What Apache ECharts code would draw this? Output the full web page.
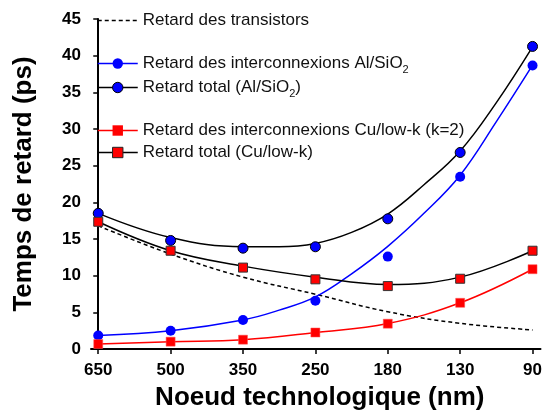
<!DOCTYPE html>
<html>
<head>
<meta charset="utf-8">
<script src="https://cdn.jsdelivr.net/npm/echarts@6/dist/echarts.min.js"></script>
<style>html,body{margin:0;padding:0;background:#fff}#c{width:545px;height:416px}</style>
</head>
<body>
<div id="c"></div>
<script>
// Data
const categories = ['650', '500', '350', '250', '180', '130', '90'];
const yTicks = [0, 5, 10, 15, 20, 25, 30, 35, 40, 45];
const seriesNames = [
  'Retard des transistors',
  'Retard des interconnexions Al/SiO2',
  'Retard total (Al/SiO2)',
  'Retard des interconnexions Cu/low-k (k=2)',
  'Retard total (Cu/low-k)'
];
// measured points (markers), one per node
const alInterconnect = [1.85, 2.48, 3.96, 6.57, 12.6, 23.5, 38.66];
const alTotal = [18.5, 14.8, 13.75, 13.94, 17.75, 26.8, 41.26];
const cuInterconnect = [0.68, 1.0, 1.27, 2.25, 3.45, 6.3, 10.88];
const cuTotal = [17.35, 13.4, 11.1, 9.5, 8.58, 9.58, 13.4];
// fitted curves, one per node
const transistorFit = [16.8, 12.95, 9.8, 7.47, 5.08, 3.5, 2.6];
const cuInterconnectFit = [0.68, 1.0, 1.27, 2.25, 3.47, 6.3, 10.88];
const cuTotalFit = [17.35, 13.4, 11.3, 9.8, 8.8, 9.8, 13.4];
// Al fitted curves read at half-node steps as well
const fineSteps = [0, 1, 2, 2.5, 3, 3.5, 4, 4.5, 5, 5.5, 6];
const alInterconnectFit = [1.85, 2.5, 3.96, 5.3, 7.1, 10.25, 14.0, 18.5, 23.7, 31.0, 38.7];
const alTotalFit = [18.5, 15.2, 13.95, 13.95, 14.4, 15.9, 18.4, 22.4, 27.0, 33.6, 41.2];

const nodeIndex = categories.map((_, i) => i);
const pts = arr => arr.map((v, i) => [i, v]);
const finePts = arr => arr.map((v, i) => [fineSteps[i], v]);
const FONT = '"Liberation Sans", Arial, sans-serif';
const BLUE = '#0000ff', RED = '#ff0000', BLACK = '#000000';

function fitLine(name, data, color, symbol, fill, border, dashed) {
  return {
    name, type: 'line', data, smooth: 0.4,
    showSymbol: false, symbol: symbol, symbolSize: 10,
    lineStyle: { color, width: 1.5, type: dashed ? [4, 3] : 'solid' },
    itemStyle: { color: fill, borderColor: border, borderWidth: 1 },
    emphasis: { disabled: true }, silent: true, z: 2
  };
}
function markers(name, data, symbol, size, fill, border, bw) {
  return {
    name, type: 'scatter', data: pts(data), symbol, symbolSize: size,
    itemStyle: { color: fill, borderColor: border, borderWidth: bw, opacity: 1 },
    emphasis: { disabled: true }, silent: true, z: 5
  };
}
const rich = { sub: { fontSize: 11, fontFamily: FONT, color: '#111', verticalAlign: 'bottom', lineHeight: 24 } };
function legendFor(name, top, iconStyle, lineStyle) {
  return {
    left: 97, top, orient: 'vertical', itemWidth: 40, itemHeight: 13, itemGap: 0,
    selectedMode: false, padding: 0,
    data: [{ name, itemStyle: iconStyle, lineStyle }],
    formatter: n => n.replace('SiO2', 'SiO{sub|2}'),
    textStyle: { fontSize: 17, fontFamily: FONT, color: '#111', rich }
  };
}

const chart = echarts.init(document.getElementById('c'), null, { renderer: 'canvas' });
chart.setOption({
  animation: false,
  backgroundColor: '#fff',
  grid: { left: 91, right: 0, top: 19, bottom: 63, containLabel: false },
  legend: [
    legendFor(seriesNames[0], 12, { color: 'rgba(0,0,0,0)', borderWidth: 0, opacity: 0 }, { color: BLACK, width: 1.5, type: [4, 3] }),
    legendFor(seriesNames[1], 55, { color: BLUE, borderWidth: 0 }, { color: BLUE, width: 1.5 }),
    legendFor(seriesNames[2], 79, { color: BLUE, borderColor: BLACK, borderWidth: 1 }, { color: BLACK, width: 1.5 }),
    legendFor(seriesNames[3], 122, { color: RED, borderWidth: 0 }, { color: RED, width: 1.5 }),
    legendFor(seriesNames[4], 144, { color: RED, borderColor: '#222', borderWidth: 1 }, { color: BLACK, width: 1.5 })
  ],
  xAxis: {
    type: 'value', min: -0.1, max: 6.11,
    name: 'Noeud technologique (nm)', nameLocation: 'middle', nameGap: 36,
    nameTextStyle: { fontSize: 26, fontWeight: 'bold', fontFamily: FONT, color: '#000', padding: [0, 0, 0, 8] },
    axisLine: { lineStyle: { color: '#000', width: 2 } },
    axisTick: { show: true, length: 5, customValues: nodeIndex, lineStyle: { color: '#000', width: 1.5 } },
    axisLabel: { customValues: nodeIndex, formatter: v => categories[Math.round(v)], fontSize: 17, fontWeight: 'bold', fontFamily: FONT, color: '#000', margin: 13 },
    splitLine: { show: false }
  },
  yAxis: {
    type: 'value', min: 0, max: 45, interval: 5,
    name: 'Temps de retard (ps)', nameLocation: 'middle', nameGap: 54,
    nameTextStyle: { fontSize: 26, fontWeight: 'bold', fontFamily: FONT, color: '#000' },
    axisLine: { show: true, lineStyle: { color: '#000', width: 2 } },
    axisTick: { show: true, length: 5, lineStyle: { color: '#000', width: 1.5 } },
    axisLabel: { fontSize: 17, fontWeight: 'bold', fontFamily: FONT, color: '#000', margin: 10,
      formatter: v => (yTicks.indexOf(v) >= 0 ? String(v) : '') },
    splitLine: { show: false }
  },
  series: [
    fitLine(seriesNames[0], pts(transistorFit), BLACK, 'none', 'rgba(0,0,0,0)', 'rgba(0,0,0,0)', true),
    fitLine(seriesNames[1], finePts(alInterconnectFit), BLUE, 'circle', BLUE, BLUE),
    fitLine(seriesNames[2], finePts(alTotalFit), BLACK, 'circle', BLUE, BLACK),
    fitLine(seriesNames[3], pts(cuInterconnectFit), RED, 'rect', RED, RED),
    fitLine(seriesNames[4], pts(cuTotalFit), BLACK, 'rect', RED, '#222'),
    markers(seriesNames[1], alInterconnect, 'circle', 10, BLUE, BLUE, 0),
    markers(seriesNames[2], alTotal, 'circle', 10, BLUE, BLACK, 1),
    markers(seriesNames[3], cuInterconnect, 'rect', 9, RED, '#ff5555', 0.5),
    markers(seriesNames[4], cuTotal, 'rect', 9, RED, '#333', 1)
  ]
});
</script>
</body>
</html>
